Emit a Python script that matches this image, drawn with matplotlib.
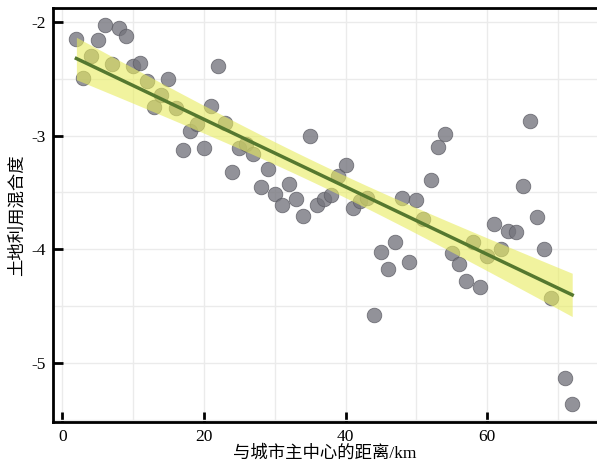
import numpy as np
import matplotlib
matplotlib.use("Agg")
import matplotlib.pyplot as plt
from matplotlib.ticker import MultipleLocator

# Data
distance_km = [2, 3, 4, 5, 6, 7, 8, 9, 10, 11, 12, 13, 14, 15, 16, 17, 18, 19, 20,
               21, 22, 23, 24, 25, 26, 27, 28, 29, 30, 31, 32, 33, 34, 35, 36, 37,
               38, 39, 40, 41, 42, 43, 44, 45, 46, 47, 48, 49, 50, 51, 52, 53, 54,
               55, 56, 57, 58, 59, 60, 61, 62, 63, 64, 65, 66, 67, 68, 69, 71, 72]
land_mix = [-2.15, -2.49, -2.30, -2.16, -2.03, -2.37, -2.05, -2.12, -2.39, -2.36,
            -2.52, -2.75, -2.64, -2.50, -2.76, -3.13, -2.96, -2.90, -3.11, -2.74,
            -2.39, -2.89, -3.32, -3.11, -3.07, -3.16, -3.45, -3.29, -3.51, -3.61,
            -3.43, -3.56, -3.71, -3.00, -3.61, -3.56, -3.52, -3.36, -3.26, -3.64,
            -3.58, -3.55, -4.58, -4.02, -4.17, -3.94, -3.55, -4.11, -3.57, -3.73,
            -3.39, -3.10, -2.99, -4.03, -4.13, -4.28, -3.94, -4.33, -4.06, -3.78,
            -4.00, -3.84, -3.85, -3.44, -2.87, -3.72, -4.00, -4.43, -5.13, -5.36]

xlabel = "与城市主中心的距离/km"
ylabel = "土地利用混合度"
x_ticks = [0, 20, 40, 60]
y_ticks = [-2, -3, -4, -5]

fam = ["Liberation Serif", "Noto Sans CJK SC", "DejaVu Sans"]
plt.rcParams["font.family"] = fam

x = np.array(distance_km, dtype=float)
y = np.array(land_mix, dtype=float)

# OLS fit with 95% confidence band
n = len(x)
b1, b0 = np.polyfit(x, y, 1)
xs = np.linspace(x.min(), x.max(), 200)
yhat = b0 + b1 * xs
resid = y - (b0 + b1 * x)
s = np.sqrt(np.sum(resid ** 2) / (n - 2))
sxx = np.sum((x - x.mean()) ** 2)
se = s * np.sqrt(1.0 / n + (xs - x.mean()) ** 2 / sxx)
tval = 1.995
lo, hi = yhat - tval * se, yhat + tval * se

fig = plt.figure(figsize=(5.97, 4.66), dpi=100)
ax = fig.add_axes([0.0888, 0.0944, 0.9112, 0.8886])

ax.scatter(x, y, s=110, color="#74747c", alpha=0.78, edgecolors="#5a5a62",
           linewidths=0.6, zorder=2)
ax.fill_between(xs, lo, hi, color="#e8ec5e", alpha=0.6, linewidth=0, zorder=3)
ax.plot(xs, yhat, color="#55782f", linewidth=2.5, zorder=4)

ax.set_xlim(-1.3, 75.5)
ax.set_ylim(-5.52, -1.877)
ax.set_xticks(x_ticks)
ax.set_yticks(y_ticks)
ax.set_yticklabels([str(v) for v in y_ticks])
ax.xaxis.set_minor_locator(MultipleLocator(10))
ax.yaxis.set_minor_locator(MultipleLocator(0.5))
ax.grid(True, which="both", color="#ebebeb", linewidth=1.0, zorder=0)
ax.set_axisbelow(True)

for side in ["left", "bottom", "top"]:
    ax.spines[side].set_linewidth(2)
    ax.spines[side].set_color("black")
ax.spines["right"].set_visible(False)

ax.tick_params(axis="both", which="major", direction="in", length=7, width=2,
               labelsize=12.5, pad=5, colors="black")
ax.tick_params(axis="both", which="minor", length=0)

ax.set_xlabel(xlabel, fontsize=12.5, labelpad=0)
ax.set_ylabel(ylabel, fontsize=12.5, labelpad=4)

fig.savefig("out.png", dpi=100)
